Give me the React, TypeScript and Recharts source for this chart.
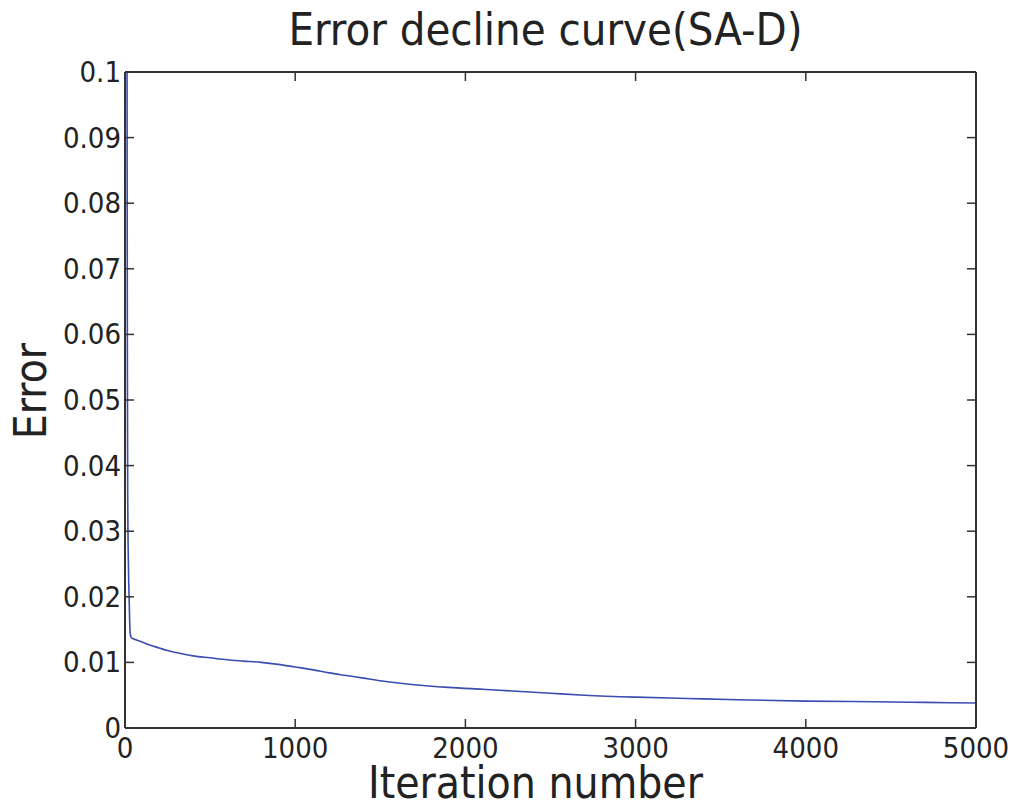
import { LineChart, Line, XAxis, YAxis } from 'recharts';

const iterations = [12, 13, 14, 16, 20, 25, 30, 35, 40, 60, 100, 150, 200, 250, 300, 400, 500, 600, 700, 800, 900, 1000, 1100, 1200, 1300, 1400, 1500, 1700, 1900, 2100, 2300, 2500, 2700, 3000, 3300, 3600, 4000, 4400, 4700, 5000];
const errors = [0.1, 0.075, 0.055, 0.035, 0.025, 0.019, 0.0145, 0.0139, 0.0137, 0.0135, 0.0131, 0.0126, 0.0122, 0.0118, 0.0115, 0.011, 0.0107, 0.0104, 0.0102, 0.01, 0.0097, 0.0093, 0.0089, 0.0084, 0.008, 0.0076, 0.0072, 0.0066, 0.0062, 0.0059, 0.0056, 0.0053, 0.005, 0.0047, 0.0045, 0.0043, 0.0041, 0.004, 0.0039, 0.0038];
const xTicks = [0, 1000, 2000, 3000, 4000, 5000];
const yTicks = [0, 0.01, 0.02, 0.03, 0.04, 0.05, 0.06, 0.07, 0.08, 0.09, 0.1];

const data = iterations.map((it, i) => ({ it, err: errors[i] }));

const FONT = "'Liberation Sans Narrow', 'DejaVu Sans Condensed', sans-serif";
const AXIS = '#333';
const TICK_LEN = 9;
const GAP = 4;

const fmtY = (v: number) => String(Number(v.toFixed(2)));

// ticks point inward, label sits outside
function LeftTick({ x, y, payload }: any) {
  return (
    <g>
      <line x1={x + GAP} x2={x + GAP + TICK_LEN} y1={y} y2={y} stroke={AXIS} strokeWidth={1.5} />
      <text x={x} y={y} dy={10} textAnchor="end" fill="#222" fontSize={29} fontFamily={FONT}>
        {fmtY(payload.value)}
      </text>
    </g>
  );
}

function BottomTick({ x, y, payload }: any) {
  return (
    <g>
      <line x1={x} x2={x} y1={y - GAP} y2={y - GAP - TICK_LEN} stroke={AXIS} strokeWidth={1.5} />
      <text x={x} y={y} dy={26} textAnchor="middle" fill="#222" fontSize={29} fontFamily={FONT}>
        {payload.value}
      </text>
    </g>
  );
}

function RightTick({ x, y }: any) {
  return <line x1={x - GAP} x2={x - GAP - TICK_LEN} y1={y} y2={y} stroke={AXIS} strokeWidth={1.5} />;
}

function TopTick({ x, y }: any) {
  return <line x1={x} x2={x} y1={y + GAP} y2={y + GAP + TICK_LEN} stroke={AXIS} strokeWidth={1.5} />;
}

export default function App() {
  return (
    <div style={{ position: 'absolute', left: 0, top: 0, width: 1021, height: 804, background: '#fff' }}>
      <div style={{ position: 'absolute', left: 0, width: 1021, top: 4, textAlign: 'center', paddingLeft: 70, boxSizing: 'border-box', fontFamily: FONT, fontSize: 45, color: '#222', lineHeight: '52px' }}>
        Error decline curve(SA-D)
      </div>
      <div style={{ position: 'absolute', left: 0, width: 1021, top: 764, textAlign: 'center', paddingLeft: 50, boxSizing: 'border-box', fontFamily: FONT, fontSize: 44, color: '#222', lineHeight: '38px' }}>
        Iteration number
      </div>
      <div style={{ position: 'absolute', left: 31, top: 391, width: 0, height: 0 }}>
        <div style={{ position: 'absolute', transform: 'translate(-50%, -50%) rotate(-90deg)', fontFamily: FONT, fontSize: 44, color: '#222', whiteSpace: 'nowrap', lineHeight: '44px' }}>
          Error
        </div>
      </div>
      <LineChart width={1021} height={804} data={data} margin={{ top: 71, right: 44, bottom: 6, left: 65 }}>
        <XAxis
          dataKey="it"
          type="number"
          domain={[0, 5000]}
          ticks={xTicks}
          allowDataOverflow
          height={70}
          tickSize={0}
          tickMargin={GAP}
          tick={<BottomTick />}
          axisLine={{ stroke: AXIS, strokeWidth: 2 }}
        />
        <XAxis
          xAxisId="top"
          orientation="top"
          dataKey="it"
          type="number"
          domain={[0, 5000]}
          ticks={xTicks}
          allowDataOverflow
          height={1}
          tickSize={0}
          tickMargin={GAP}
          tick={<TopTick />}
          axisLine={{ stroke: AXIS, strokeWidth: 2 }}
        />
        <YAxis
          type="number"
          domain={[0, 0.1]}
          ticks={yTicks}
          allowDataOverflow
          width={60}
          tickSize={0}
          tickMargin={GAP}
          tick={<LeftTick />}
          axisLine={{ stroke: AXIS, strokeWidth: 2 }}
        />
        <YAxis
          yAxisId="right"
          orientation="right"
          type="number"
          domain={[0, 0.1]}
          ticks={yTicks}
          allowDataOverflow
          width={1}
          tickSize={0}
          tickMargin={GAP}
          tick={<RightTick />}
          axisLine={{ stroke: AXIS, strokeWidth: 2 }}
        />
        {/* invisible copy so the mirrored top/right axes get drawn */}
        <Line
          xAxisId="top"
          yAxisId="right"
          dataKey="err"
          stroke="none"
          dot={false}
          activeDot={false}
          legendType="none"
          isAnimationActive={false}
        />
        <Line
          type="monotone"
          dataKey="err"
          stroke="#3a4db0"
          strokeWidth={1.6}
          dot={false}
          isAnimationActive={false}
        />
      </LineChart>
    </div>
  );
}
